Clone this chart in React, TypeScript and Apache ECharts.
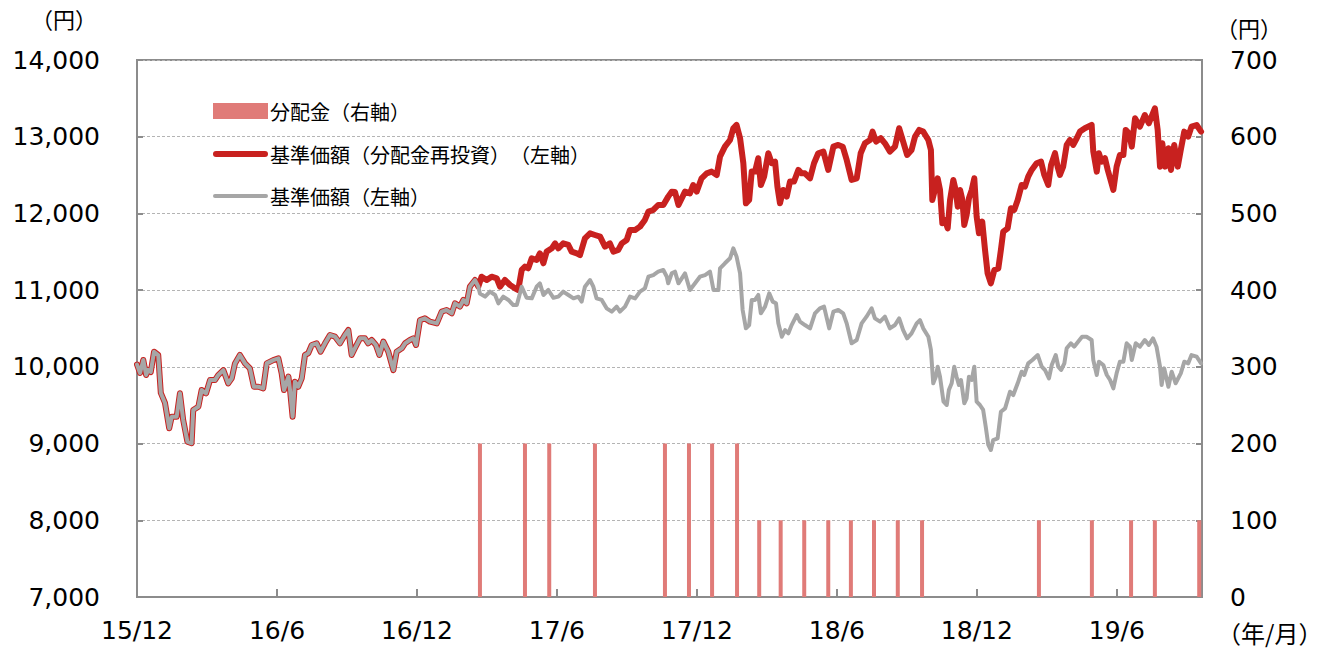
import { useEffect, useRef } from "react";
import * as echarts from "echarts";

// x values are months elapsed since 2015/12 (0 = 15/12, 6 = 16/6, ...)
const xTickLabels: Record<number, string> = {
  0: "15/12", 6: "16/6", 12: "16/12", 18: "17/6", 24: "17/12", 30: "18/6", 36: "18/12", 42: "19/6",
};

// shared history (both NAV lines identical before the first distribution)
const sharedT = [
  0.0, 0.13, 0.27, 0.39, 0.48, 0.59, 0.73, 0.91, 1.02, 1.2, 1.38, 1.49, 1.7, 1.84, 1.98, 2.16, 2.34, 2.41, 2.63, 2.77,
  2.96, 3.13, 3.34, 3.48, 3.7, 3.91, 4.06, 4.2, 4.41, 4.63, 4.84, 5.01, 5.2, 5.41, 5.56, 5.84, 6.06, 6.2, 6.3, 6.49,
  6.56, 6.67, 6.77, 6.91, 7.06, 7.2, 7.34, 7.49, 7.7, 7.87, 8.06, 8.27, 8.49, 8.7, 8.91, 9.06, 9.2, 9.34, 9.56, 9.77,
  9.91, 10.06, 10.24, 10.39, 10.56, 10.77, 10.99, 11.13, 11.35, 11.49, 11.7, 11.84, 11.96, 12.13, 12.34, 12.56, 12.85,
  13.06, 13.27, 13.49, 13.63, 13.84, 13.99, 14.13, 14.27, 14.49, 14.63,
];
const sharedNav = [
  10030, 9920, 10090, 9894, 9960, 9933, 10197, 10155, 9660, 9530, 9200, 9350, 9350, 9655, 9307, 9025, 9004, 9437, 9480, 9698,
  9655, 9828, 9828, 9893, 9958, 9785, 9850, 10045, 10155, 10045, 9980, 9741, 9741, 9720, 10045, 10088, 10110, 9916, 9698, 9872,
  9698, 9350, 9807, 9741, 9850, 10155, 10177, 10285, 10307, 10198, 10307, 10415, 10393, 10307, 10415, 10480, 10155, 10242, 10372, 10372,
  10307, 10350, 10285, 10155, 10328, 10198, 9958, 10198, 10242, 10307, 10350, 10372, 10285, 10610, 10632, 10589, 10567,
  10720, 10741, 10698, 10828, 10785, 10872, 10828, 11045, 11132, 11045,
];

// 基準価額（分配金再投資） after the first distribution
const reinvT = [
  14.77, 14.99, 15.2, 15.42, 15.56, 15.77, 15.99, 16.2, 16.34, 16.49, 16.63, 16.77, 16.92, 17.13, 17.27, 17.42, 17.56, 17.78,
  17.92, 18.06, 18.27, 18.49, 18.63, 18.85, 18.99, 19.2, 19.42, 19.63, 19.85, 20.06, 20.27, 20.42, 20.63, 20.78, 20.99, 21.13,
  21.35, 21.56, 21.77, 21.92, 22.13, 22.34, 22.56, 22.77, 22.92, 23.06, 23.21, 23.49, 23.7, 23.84, 23.99, 24.2, 24.42, 24.63,
  24.85, 24.99, 25.2, 25.42, 25.56, 25.7, 25.85, 25.99, 26.1, 26.24, 26.35, 26.49, 26.63, 26.74, 26.88, 27.06, 27.21, 27.35,
  27.45, 27.56, 27.7, 27.85, 27.99, 28.16, 28.35, 28.49, 28.63, 28.85, 29.02, 29.2, 29.42, 29.63, 29.85, 30.06, 30.25, 30.42,
  30.63, 30.85, 31.02, 31.2, 31.42, 31.53, 31.68, 31.88, 32.06, 32.27, 32.49, 32.67, 32.84, 33.01, 33.2, 33.35, 33.53, 33.7,
  33.92, 34.03, 34.09, 34.2, 34.32, 34.42, 34.52, 34.63, 34.75, 34.85, 34.99, 35.09, 35.18, 35.28, 35.38, 35.46, 35.56, 35.66,
  35.78, 35.89, 35.99, 36.09, 36.23, 36.35, 36.46, 36.6, 36.75, 36.92, 37.03, 37.13, 37.32, 37.46, 37.6, 37.75, 37.92, 38.06,
  38.2, 38.35, 38.56, 38.75, 38.89, 39.06, 39.18, 39.35, 39.46, 39.56, 39.7, 39.85, 39.99, 40.13, 40.28, 40.42, 40.63, 40.92,
  40.99, 41.14, 41.23, 41.35, 41.49, 41.61, 41.71, 41.85, 41.99, 42.13, 42.28, 42.38, 42.52, 42.64, 42.78, 42.99, 43.2, 43.37,
  43.63, 43.75, 43.85, 43.95, 44.07, 44.21, 44.32, 44.46, 44.61, 44.74, 44.89, 45.06, 45.2, 45.42, 45.61,
];
const reinvNav = [
  11175, 11132, 11175, 11154, 11045, 11132, 11067, 11024, 11002, 11263, 11306, 11285, 11415, 11393, 11480, 11350, 11502, 11545,
  11610, 11545, 11610, 11589, 11502, 11480, 11458, 11676, 11741, 11719, 11697, 11567, 11610, 11502, 11524, 11610, 11654, 11784,
  11784, 11828, 11915, 12023, 12045, 12110, 12110, 12219, 12284, 12280, 12110, 12284, 12262, 12370, 12284, 12458, 12523, 12545,
  12500, 12740, 12870, 12957, 13110, 13154, 12980, 12654, 12132, 12176, 12545, 12545, 12720, 12370, 12480, 12785, 12654, 12675,
  12350, 12132, 12306, 12219, 12415, 12415, 12567, 12523, 12523, 12458, 12654, 12784, 12806, 12567, 12870, 12893, 12870, 12697,
  12437, 12458, 12784, 12914, 12957, 13066, 12936, 12980, 12914, 12806, 12870, 13110, 12936, 12762, 12828, 13002, 13089, 13067,
  12957, 12828, 12176, 12306, 12458, 12306, 11872, 11915, 11806, 12176, 12436, 12306, 12088, 12306, 12176, 11850, 11980, 12197,
  12306, 12458, 11958, 11741, 11893, 11524, 11219, 11089, 11263, 11284, 11524, 11763, 11806, 12067, 12045, 12176, 12371, 12349,
  12480, 12567, 12654, 12675, 12502, 12371, 12632, 12785, 12610, 12502, 12610, 12893, 12957, 12893, 12980, 13067, 13110, 13154,
  12806, 12545, 12784, 12675, 12719, 12567, 12458, 12306, 12610, 12762, 12762, 13089, 13045, 12870, 13240, 13131, 13283, 13175,
  13371, 13089, 12610, 12914, 12610, 12849, 12567, 12893, 12610, 12828, 13067, 13002, 13131, 13153, 13067,
];

// 基準価額 after the first distribution
const navT = [
  14.7, 14.92, 15.13, 15.35, 15.49, 15.7, 15.92, 16.13, 16.28, 16.49, 16.7, 16.92, 17.13, 17.27, 17.42, 17.63, 17.85, 18.06,
  18.27, 18.49, 18.71, 18.92, 19.06, 19.2, 19.42, 19.56, 19.7, 19.92, 20.13, 20.35, 20.56, 20.7, 20.92, 21.13, 21.35, 21.56,
  21.77, 21.92, 22.13, 22.34, 22.56, 22.71, 22.77, 22.92, 23.06, 23.21, 23.49, 23.7, 23.92, 24.13, 24.35, 24.56, 24.71, 24.92,
  24.99, 25.2, 25.42, 25.56, 25.7, 25.85, 25.96, 26.1, 26.24, 26.35, 26.49, 26.63, 26.74, 26.92, 27.1, 27.25, 27.39, 27.49,
  27.64, 27.78, 27.92, 28.06, 28.28, 28.42, 28.63, 28.85, 29.06, 29.27, 29.45, 29.67, 29.85, 30.06, 30.27, 30.42, 30.63, 30.85,
  31.06, 31.27, 31.49, 31.63, 31.85, 32.06, 32.27, 32.49, 32.67, 32.84, 33.01, 33.2, 33.42, 33.56, 33.7, 33.92, 34.03, 34.13,
  34.24, 34.32, 34.42, 34.57, 34.71, 34.8, 34.92, 35.03, 35.13, 35.23, 35.32, 35.46, 35.56, 35.66, 35.78, 35.89, 35.99, 36.13,
  36.27, 36.38, 36.49, 36.6, 36.7, 36.89, 37.03, 37.21, 37.42, 37.56, 37.75, 37.92, 38.03, 38.2, 38.38, 38.61, 38.78, 38.92,
  39.09, 39.21, 39.38, 39.49, 39.61, 39.75, 39.85, 40.03, 40.17, 40.34, 40.51, 40.7, 40.92, 40.99, 41.14, 41.23, 41.42, 41.57,
  41.71, 41.85, 41.99, 42.13, 42.28, 42.42, 42.56, 42.64, 42.81, 42.99, 43.2, 43.37, 43.55, 43.7, 43.85, 43.92, 44.03, 44.21,
  44.35, 44.52, 44.74, 44.89, 45.06, 45.2, 45.42, 45.61,
];
const navVal = [
  10957, 10915, 10980, 10937, 10828, 10915, 10872, 10806, 10806, 11045, 10900, 10893, 11045, 11089, 10937, 11002, 10900, 10915,
  10980, 10937, 10893, 10915, 10850, 11045, 11132, 11045, 10893, 10872, 10763, 10720, 10785, 10720, 10785, 10915, 10893, 10980,
  11024, 11175, 11197, 11241, 11263, 11175, 11089, 11219, 11241, 11089, 11219, 11002, 11089, 11175, 11197, 11241, 11002, 11002,
  11284, 11350, 11415, 11545, 11437, 11219, 10741, 10502, 10545, 10872, 10872, 10937, 10698, 10785, 10958, 10850, 10828, 10567,
  10393, 10480, 10437, 10545, 10676, 10589, 10545, 10502, 10698, 10763, 10785, 10502, 10720, 10741, 10698, 10567, 10307, 10350,
  10567, 10654, 10763, 10632, 10589, 10654, 10502, 10545, 10632, 10480, 10372, 10437, 10567, 10610, 10502, 10393, 10220, 9786,
  9872, 10002, 9872, 9546, 9503, 9698, 9786, 10002, 9872, 9763, 9829, 9525, 9590, 9872, 9829, 10002, 9546, 9503,
  9438, 9220, 8982, 8916, 9046, 9068, 9415, 9459, 9676, 9633, 9786, 9937, 9894, 10046, 10089, 10154, 10002, 9959,
  9850, 10024, 10154, 10002, 9959, 10046, 10242, 10307, 10263, 10328, 10393, 10393, 10350, 10089, 9894, 10067, 10024, 9894,
  9829, 9720, 9916, 10067, 10067, 10307, 10263, 10089, 10307, 10263, 10350, 10285, 10372, 10263, 10002, 9763, 9980, 9741,
  9937, 9786, 9916, 10067, 10046, 10154, 10133, 10046,
];

// 分配金
const distT = [
  14.7, 16.63, 17.67, 19.63, 22.63, 23.66, 24.65, 25.72, 26.67, 27.59, 28.6, 29.63, 30.6, 31.59, 32.61, 33.65, 38.66, 40.93,
  42.61, 43.63, 45.53,
];
const distVal = [200, 200, 200, 200, 200, 200, 200, 200, 100, 100, 100, 100, 100, 100, 100, 100, 100, 100, 100, 100, 100];

const X_MAX = 45.65;

const pairs = (t: number[], v: number[]) => t.map((x, i) => [x, v[i]]);

const NAME_BAR = "分配金（右軸）";
const NAME_REINV = "基準価額（分配金再投資）（左軸）";
const NAME_NAV = "基準価額（左軸）";

const COLOR_BAR = "#e07b78";
const COLOR_REINV = "#c8211f";
const COLOR_NAV = "#a6a6a6";

const NUM_FONT = "'DejaVu Sans', Verdana, sans-serif";
const JP_FONT = "'Noto Sans CJK JP', sans-serif";

export default function App() {
  const ref = useRef<HTMLDivElement>(null);

  useEffect(() => {
    document.body.style.margin = "0";
    if (!ref.current) return;
    ref.current.style.setProperty("text-spacing-trim", "space-all");
    const chart = echarts.init(ref.current, undefined, { renderer: "svg" });
    const axisColor = "#8c8c8c";
    const legendText = (y: number, text: string) => ({
      type: "text",
      x: 270,
      y,
      style: { text, fontSize: 20, fontFamily: JP_FONT, fill: "#000", verticalAlign: "middle", align: "left" },
    });
    chart.setOption({
      animation: false,
      backgroundColor: "#ffffff",
      grid: {
        left: 137,
        right: 127,
        top: 60,
        bottom: 53,
        show: true,
        borderColor: axisColor,
        borderWidth: 2,
        containLabel: false,
      },
      xAxis: {
        type: "value",
        min: 0,
        max: X_MAX,
        interval: 6,
        splitLine: { show: false },
        axisLine: { show: true, lineStyle: { color: axisColor, width: 2 } },
        axisTick: { show: true, inside: true, length: 8, lineStyle: { color: axisColor, width: 2 } },
        axisLabel: {
          fontSize: 25,
          fontFamily: NUM_FONT,
          color: "#000",
          margin: 21,
          showMaxLabel: false,
          formatter: (v: number) =>
            Math.abs(v - Math.round(v)) < 1e-6 && xTickLabels[Math.round(v)] ? xTickLabels[Math.round(v)] : "",
        },
      },
      yAxis: [
        {
          type: "value",
          min: 7000,
          max: 14000,
          interval: 1000,
          position: "left",
          axisLine: { show: true, lineStyle: { color: axisColor, width: 2 } },
          axisTick: { show: true, inside: true, length: 6, lineStyle: { color: axisColor, width: 2 } },
          splitLine: { show: true, lineStyle: { color: "#b4b4b4", type: [3, 2], width: 1 } },
          axisLabel: {
            fontSize: 25,
            fontFamily: NUM_FONT,
            color: "#000",
            margin: 37,
            formatter: (v: number) => v.toLocaleString("en-US"),
          },
        },
        {
          type: "value",
          min: 0,
          max: 700,
          interval: 100,
          position: "right",
          axisLine: { show: true, lineStyle: { color: axisColor, width: 2 } },
          axisTick: { show: true, inside: true, length: 6, lineStyle: { color: axisColor, width: 2 } },
          splitLine: { show: false },
          axisLabel: { fontSize: 25, fontFamily: NUM_FONT, color: "#000", margin: 28 },
        },
      ],
      series: [
        {
          name: NAME_BAR,
          type: "bar",
          yAxisIndex: 1,
          barWidth: 4,
          itemStyle: { color: COLOR_BAR },
          data: pairs(distT, distVal),
          z: 1,
        },
        {
          name: NAME_REINV,
          type: "line",
          yAxisIndex: 0,
          showSymbol: false,
          symbol: "none",
          lineStyle: { color: COLOR_REINV, width: 6, cap: "round", join: "round" },
          itemStyle: { color: COLOR_REINV },
          data: [...pairs(sharedT, sharedNav), ...pairs(reinvT, reinvNav)],
          z: 2,
        },
        {
          name: NAME_NAV,
          type: "line",
          yAxisIndex: 0,
          showSymbol: false,
          symbol: "none",
          lineStyle: { color: COLOR_NAV, width: 4, cap: "round", join: "round" },
          itemStyle: { color: COLOR_NAV },
          data: [...pairs(sharedT, sharedNav), ...pairs(navT, navVal)],
          z: 3,
        },
      ],
      graphic: [
        // legend
        { type: "rect", shape: { x: 213, y: 103, width: 55, height: 16 }, style: { fill: COLOR_BAR } },
        legendText(111, NAME_BAR),
        {
          type: "line",
          shape: { x1: 216, y1: 154, x2: 265, y2: 154 },
          style: { stroke: COLOR_REINV, lineWidth: 6, lineCap: "round" },
        },
        legendText(154, NAME_REINV),
        {
          type: "line",
          shape: { x1: 215, y1: 196, x2: 266, y2: 196 },
          style: { stroke: COLOR_NAV, lineWidth: 4, lineCap: "round" },
        },
        legendText(196, NAME_NAV),
        // axis unit labels
        { type: "text", x: 31, y: 18, style: { text: "（円）", fontSize: 22, fontFamily: JP_FONT, fill: "#000", verticalAlign: "middle" } },
        { type: "text", x: 1216, y: 27, style: { text: "（円）", fontSize: 22, fontFamily: JP_FONT, fill: "#000", verticalAlign: "middle" } },
        { type: "text", x: 1217, y: 632, style: { text: "（年/月）", fontSize: 24, fontFamily: JP_FONT, fill: "#000", verticalAlign: "middle" } },
      ],
    });
    return () => chart.dispose();
  }, []);

  return <div ref={ref} style={{ width: 1329, height: 650 }} />;
}
